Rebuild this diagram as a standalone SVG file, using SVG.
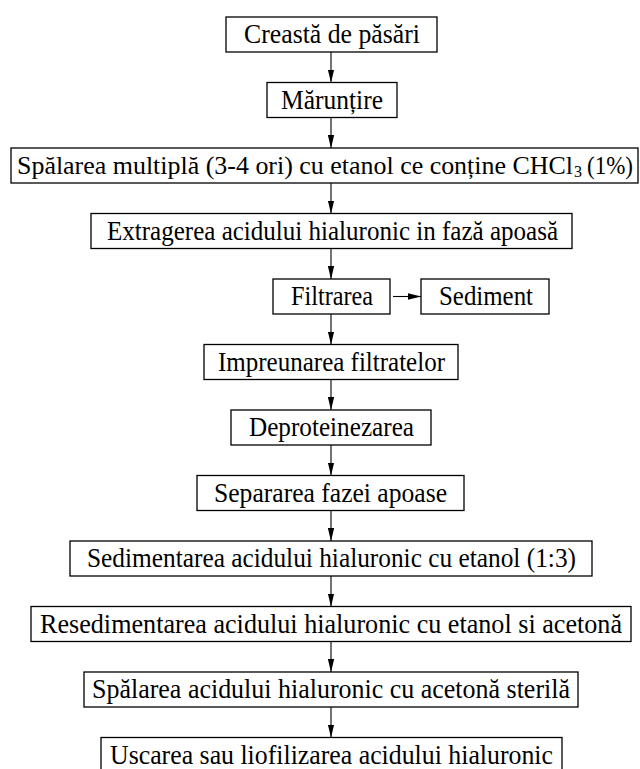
<svg xmlns="http://www.w3.org/2000/svg" width="640" height="769" viewBox="0 0 640 769">
<style>
  .box { fill: #fff; stroke: #000; stroke-width: 1.3; }
  .lbl { font-family: "Liberation Serif", "Times New Roman", serif; font-size: 27px; fill: #000; }
  .lbl.w { font-size: 25.5px; }
  .lbl.sub { font-size: 17px; }
  .con { stroke: #000; stroke-width: 1.1; fill: none; marker-end: url(#ah); }
</style>
<defs>
  <marker id="ah" markerUnits="userSpaceOnUse" markerWidth="13" markerHeight="7" refX="13" refY="3.5" orient="auto">
    <path d="M0,0.3 L13,3.5 L0,6.7 z" fill="#000"/>
  </marker>
</defs>
<rect width="640" height="769" fill="#fff"/>
<g id="n1"><rect class="box" x="226" y="17" width="211" height="35"/><text class="lbl" x="244" y="43" textLength="176" lengthAdjust="spacingAndGlyphs">Creastă de păsări</text></g>
<g id="n2"><rect class="box" x="267" y="82.5" width="130" height="35"/><text class="lbl" x="281" y="108.5" textLength="102" lengthAdjust="spacingAndGlyphs">Mărunțire</text></g>
<g id="n3"><rect class="box" x="11" y="148" width="627" height="35"/><text class="lbl w" x="17" y="174" textLength="556" lengthAdjust="spacingAndGlyphs">Spălarea multiplă (3-4 ori) cu etanol ce conține CHCl</text><text class="lbl sub" x="574" y="177" textLength="8" lengthAdjust="spacingAndGlyphs">3</text><text class="lbl w" x="587" y="174" textLength="46" lengthAdjust="spacingAndGlyphs">(1%)</text></g>
<g id="n4"><rect class="box" x="91" y="213.5" width="481" height="35"/><text class="lbl" x="107" y="239.5" textLength="451" lengthAdjust="spacingAndGlyphs">Extragerea acidului hialuronic in fază apoasă</text></g>
<g id="n5"><rect class="box" x="273" y="279" width="117" height="35"/><text class="lbl" x="291" y="305" textLength="82" lengthAdjust="spacingAndGlyphs">Filtrarea</text></g>
<g id="n6"><rect class="box" x="421" y="279" width="128" height="35"/><text class="lbl" x="439" y="305" textLength="94" lengthAdjust="spacingAndGlyphs">Sediment</text></g>
<g id="n7"><rect class="box" x="204" y="344.5" width="254" height="35"/><text class="lbl" x="218" y="370.5" textLength="227" lengthAdjust="spacingAndGlyphs">Impreunarea filtratelor</text></g>
<g id="n8"><rect class="box" x="231" y="410" width="200" height="35"/><text class="lbl" x="249" y="436" textLength="165" lengthAdjust="spacingAndGlyphs">Deproteinezarea</text></g>
<g id="n9"><rect class="box" x="197" y="475.5" width="267" height="35"/><text class="lbl" x="214" y="501.5" textLength="233" lengthAdjust="spacingAndGlyphs">Separarea fazei apoase</text></g>
<g id="n10"><rect class="box" x="70" y="541" width="522" height="35"/><text class="lbl" x="87" y="567" textLength="489" lengthAdjust="spacingAndGlyphs">Sedimentarea acidului hialuronic cu etanol (1:3)</text></g>
<g id="n11"><rect class="box" x="31" y="606.5" width="600" height="35"/><text class="lbl" x="40" y="632.5" textLength="582" lengthAdjust="spacingAndGlyphs">Resedimentarea acidului hialuronic cu etanol si acetonă</text></g>
<g id="n12"><rect class="box" x="84" y="672" width="494" height="35"/><text class="lbl" x="92" y="698" textLength="478" lengthAdjust="spacingAndGlyphs">Spălarea acidului hialuronic cu acetonă sterilă</text></g>
<g id="n13"><rect class="box" x="101" y="737.5" width="461" height="35"/><text class="lbl" x="110" y="763.5" textLength="443" lengthAdjust="spacingAndGlyphs">Uscarea sau liofilizarea acidului hialuronic</text></g>
<g id="connectors">
  <line class="con" x1="331" y1="52" x2="331" y2="82.5"/>
  <line class="con" x1="331" y1="117.5" x2="331" y2="148"/>
  <line class="con" x1="331" y1="183" x2="331" y2="213.5"/>
  <line class="con" x1="331" y1="248.5" x2="331" y2="279"/>
  <line class="con" x1="393" y1="296.5" x2="421" y2="296.5"/>
  <line class="con" x1="331" y1="314" x2="331" y2="344.5"/>
  <line class="con" x1="331" y1="379.5" x2="331" y2="410"/>
  <line class="con" x1="331" y1="445" x2="331" y2="475.5"/>
  <line class="con" x1="331" y1="510.5" x2="331" y2="541"/>
  <line class="con" x1="331" y1="576" x2="331" y2="606.5"/>
  <line class="con" x1="331" y1="641.5" x2="331" y2="672"/>
  <line class="con" x1="331" y1="707" x2="331" y2="737.5"/>
</g>
</svg>
